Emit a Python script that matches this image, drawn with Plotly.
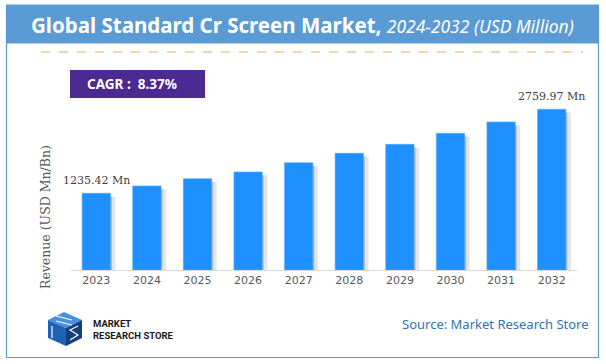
import plotly.graph_objects as go

# ---- data ----
years = ["2023", "2024", "2025", "2026", "2027", "2028", "2029", "2030", "2031", "2032"]
revenue = [1235.42, 1368, 1500, 1622, 1790, 1961, 2124, 2324, 2529, 2759.97]
label_years = ["2023", "2032"]
label_texts = ["1235.42 Mn", "2759.97 Mn"]
label_values = [1235.42, 2759.97]
cagr_text = "CAGR :  8.37%"
title_main = "Global Standard Cr Screen Market,"
title_sub = "2024-2032 (USD Million)"
y_title = "Revenue (USD Mn/Bn)"
source_text = "Source: Market Research Store"
logo_lines = ["MARKET", "RESEARCH STORE"]

AXIS_MIN = -157
AXIS_MAX = 2928

W, H = 606, 364
def px(x):
    return x / W
def py(y):
    return 1 - y / H

fig = go.Figure()

heights = [v - AXIS_MIN for v in revenue]
BW = 0.56
# soft shadow to the right of bars
fig.add_trace(go.Bar(x=years, y=[h - 60 for h in heights], base=AXIS_MIN, width=0.16,
                     offset=BW / 2 - 0.06, marker=dict(color="rgba(0,0,0,0.10)", line_width=0),
                     hoverinfo="skip", showlegend=False))
fig.add_trace(go.Bar(x=years, y=[h - 60 for h in heights], base=AXIS_MIN, width=0.09,
                     offset=BW / 2 - 0.06, marker=dict(color="rgba(0,0,0,0.18)", line_width=0),
                     hoverinfo="skip", showlegend=False))
fig.add_trace(go.Bar(x=years, y=heights, base=AXIS_MIN, width=BW, offset=-BW / 2,
                     marker=dict(color="#1E90FF", line=dict(color="#4FA8FF", width=0.6)),
                     customdata=revenue, hovertemplate="%{x}: %{customdata}<extra></extra>",
                     showlegend=False))

fig.update_layout(
    width=W, height=H, margin=dict(l=0, r=0, t=0, b=0, autoexpand=False),
    paper_bgcolor="white", plot_bgcolor="white", barmode="overlay",
    xaxis=dict(type="category", categoryorder="array", categoryarray=years,
               range=[-0.5, len(years) - 0.5], autorange=False, automargin=False,
               domain=[px(71), px(577)], showgrid=False, showline=True,
               linecolor="#D9D9D9", linewidth=1, ticks="",
               tickfont=dict(family="DejaVu Sans", size=11, color="#595959"), fixedrange=True),
    yaxis=dict(domain=[py(270), py(100)], range=[AXIS_MIN, AXIS_MAX], autorange=False, automargin=False,
               showgrid=False, showticklabels=False, zeroline=False, showline=False, fixedrange=True),
)

shapes = []
# outer frame
shapes.append(dict(type="rect", xref="paper", yref="paper", x0=px(6.5), x1=px(598.5), y0=py(357.5), y1=py(5),
                   line=dict(color="#5B9BD5", width=1.2), fillcolor="rgba(0,0,0,0)", layer="above"))
# title bar
shapes.append(dict(type="rect", xref="paper", yref="paper", x0=px(6), x1=px(599), y0=py(43.5), y1=py(5),
                   line=dict(width=0), fillcolor="#5B9BD5", layer="below"))
# dashed separator
shapes.append(dict(type="line", xref="paper", yref="paper", x0=px(41), x1=px(583), y0=py(52), y1=py(52),
                   line=dict(color="#F4A460", width=1, dash="dash")))
# CAGR box
shapes.append(dict(type="rect", xref="paper", yref="paper", x0=px(70), x1=px(205), y0=py(98), y1=py(70),
                   line=dict(width=0), fillcolor="#4B2A91"))

# logo cube (simplified)
def pt(x, y):
    return f"{px(x)},{py(y)}"
shapes.append(dict(type="path", xref="paper", yref="paper",
                   path=f"M{pt(48,320)} L{pt(64,312)} L{pt(82,320)} L{pt(66,328)} Z",
                   fillcolor="#4A90E2", line=dict(width=0)))
shapes.append(dict(type="path", xref="paper", yref="paper",
                   path=f"M{pt(48,320)} L{pt(66,328)} L{pt(66,346)} L{pt(48,338)} Z",
                   fillcolor="#1F62B5", line=dict(width=0)))
shapes.append(dict(type="path", xref="paper", yref="paper",
                   path=f"M{pt(66,328)} L{pt(82,320)} L{pt(82,338)} L{pt(66,346)} Z",
                   fillcolor="#143F7D", line=dict(width=0)))
for d in (0, 5):
    shapes.append(dict(type="line", xref="paper", yref="paper",
                       x0=px(56), y0=py(316 + d), x1=px(72), y1=py(320 + d),
                       line=dict(color="white", width=1.2)))
shapes.append(dict(type="line", xref="paper", yref="paper", x0=px(52), y0=py(326), x1=px(52), y1=py(338),
                   line=dict(color="white", width=1.2)))
shapes.append(dict(type="path", xref="paper", yref="paper",
                   path=f"M{pt(78,326)} L{pt(70,330)} L{pt(78,335)} L{pt(70,340)}",
                   line=dict(color="white", width=1.2)))
fig.update_layout(shapes=shapes)

ann = []
ann.append(dict(xref="paper", yref="paper", x=px(302), y=py(25), xanchor="center", yanchor="middle",
                text=f"<b>{title_main}</b> <i><span style='font-size:17.5px'>{title_sub}</span></i>",
                showarrow=False, font=dict(family="Noto Sans", size=20.5, color="white")))
ann.append(dict(xref="paper", yref="paper", x=px(132), y=py(84), xanchor="center", yanchor="middle",
                text=f"<b>{cagr_text}</b>", showarrow=False,
                font=dict(family="Noto Sans", size=13.5, color="white")))
ann.append(dict(xref="paper", yref="paper", x=px(45), y=py(217), xanchor="center", yanchor="middle",
                text=y_title, textangle=-90, showarrow=False,
                font=dict(family="DejaVu Serif", size=12.5, color="#595959")))
for yr, t, v in zip(label_years, label_texts, label_values):
    ann.append(dict(xref="x", yref="y", x=years.index(yr), y=v, xanchor="center", yanchor="bottom", yshift=4,
                    text=t, showarrow=False, font=dict(family="DejaVu Serif", size=11, color="#404040")))
ann.append(dict(xref="paper", yref="paper", x=px(591), y=py(324), xanchor="right", yanchor="middle",
                text=source_text, showarrow=False, font=dict(family="Noto Sans", size=13, color="#2E75B6")))
ann.append(dict(xref="paper", yref="paper", x=px(91), y=py(329), xanchor="left", yanchor="middle",
                text="<br>".join(f"<b>{l}</b>" for l in logo_lines), showarrow=False, align="left",
                font=dict(family="Roboto", size=9.5, color="#1A1A1A")))
fig.update_layout(annotations=ann)

fig.write_html("out.html", post_script="document.body.style.margin='0';",
               config={"displayModeBar": False})
